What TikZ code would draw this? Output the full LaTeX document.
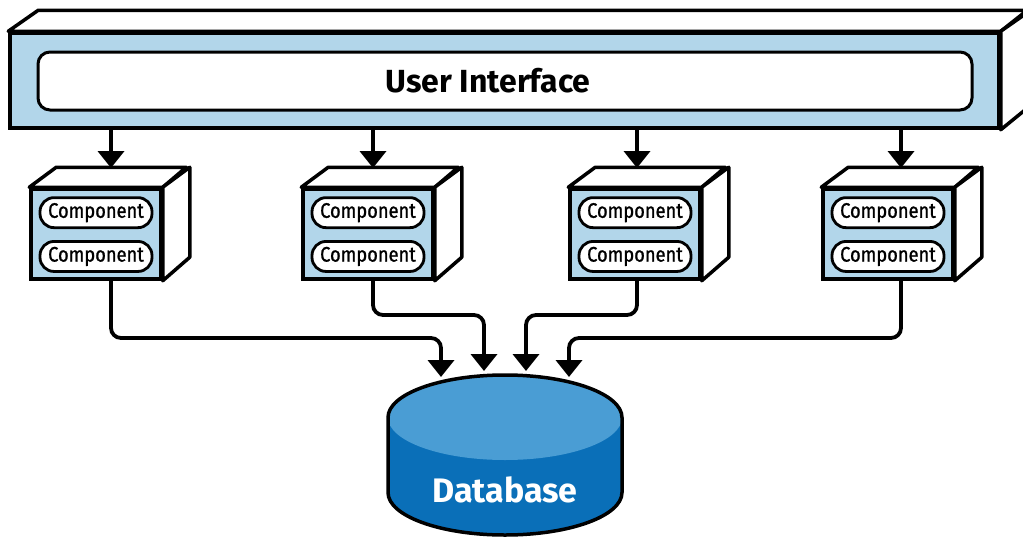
\documentclass[tikz,border=0pt]{standalone}
\usepackage{fontspec}
\newfontfamily\diafont{Fira Sans}
\newfontfamily\diamedium[FakeBold=1.1,FakeStretch=0.87]{Fira Sans}
\usetikzlibrary{arrows.meta,positioning,calc}

\definecolor{paleblue}{HTML}{B2D6EA}
\definecolor{dbtop}{HTML}{4A9DD4}
\definecolor{dbbody}{HTML}{0A6FB8}

\begin{document}
\begin{tikzpicture}[x=1pt,y=-1pt,
            front/.style={draw,line width=3.5pt,fill=paleblue,rectangle,inner sep=0},
            face/.style={draw,line width=3.5pt,fill=white,line join=round},
            layer/.style={front,minimum width=989pt,minimum height=95pt},
            uibox/.style={draw,line width=3pt,fill=white,rounded corners=12pt,minimum width=934pt,minimum height=58pt},
            module/.style={front,minimum width=130pt,minimum height=90pt},
            comp/.style={draw,line width=2.8pt,fill=white,rounded corners=14pt,minimum width=112pt,minimum height=30pt,
              inner sep=0,font=\diamedium\fontsize{21}{21}\selectfont},
            flow/.style={draw,->,line width=3.8pt,rounded corners=10pt,>={Triangle[width=26pt,length=17pt]}}
          ]
          \useasboundingbox (0,0) rectangle (1023,538);
          \clip (0,0) rectangle (1023,538);

          %user interface layer
          \node[layer] (ui) at (504.5,80.5) {};
          \draw[face] (ui.north west) -- ++(30,-21) -- ++(989,0) -- (ui.north east) -- cycle;
          \draw[face] (ui.north east) -- ++(30,-21) -- ++(0,95) -- (ui.south east) -- cycle;
          \node[uibox] (uibar) at (505,81) {};
          \node[font=\diafont\bfseries\fontsize{32}{32}\selectfont] (uilabel) at (488,81) {User Interface};

          %modules
          \node[module] (m1) at (96,234) {};
          \node[module] (m2) at (368,234) {};
          \node[module] (m3) at (635,234) {};
          \node[module] (m4) at (888,234) {};
          \draw[face] (m1.north west) -- ++(27,-20) -- ++(130,0) -- (m1.north east) -- cycle;
          \draw[face] (m1.north east) -- ++(27,-20) -- ++(0,90) -- (m1.south east) -- cycle;
          \draw[face] (m2.north west) -- ++(27,-20) -- ++(130,0) -- (m2.north east) -- cycle;
          \draw[face] (m2.north east) -- ++(27,-20) -- ++(0,90) -- (m2.south east) -- cycle;
          \draw[face] (m3.north west) -- ++(27,-20) -- ++(130,0) -- (m3.north east) -- cycle;
          \draw[face] (m3.north east) -- ++(27,-20) -- ++(0,90) -- (m3.south east) -- cycle;
          \draw[face] (m4.north west) -- ++(27,-20) -- ++(130,0) -- (m4.north east) -- cycle;
          \draw[face] (m4.north east) -- ++(27,-20) -- ++(0,90) -- (m4.south east) -- cycle;

          %components
          \node[comp,below=9pt of m1.north] (m1a) {Component};
          \node[comp,below=11pt of m1a] (m1b) {Component};
          \node[comp,below=9pt of m2.north] (m2a) {Component};
          \node[comp,below=11pt of m2a] (m2b) {Component};
          \node[comp,below=9pt of m3.north] (m3a) {Component};
          \node[comp,below=11pt of m3a] (m3b) {Component};
          \node[comp,below=9pt of m4.north] (m4a) {Component};
          \node[comp,below=11pt of m4a] (m4b) {Component};

          %database
          \fill[dbbody] (388,417.5) -- (388,492.5) arc[start angle=180,end angle=360,x radius=117pt,y radius=42.5pt]
            -- (622,417.5) -- cycle;
          \fill[dbtop] (505,417.5) ellipse[x radius=117pt,y radius=42.5pt];
          \draw[line width=3.5pt] (388,417.5) arc[start angle=180,end angle=0,x radius=117pt,y radius=42.5pt]
            -- (622,492.5) arc[start angle=0,end angle=-180,x radius=117pt,y radius=42.5pt] -- cycle;
          \node[text=white,font=\diafont\bfseries\fontsize{34}{34}\selectfont] (db) at (505,490) {Database};

          %ends of the arrows
          \coordinate (m1top) at (111,168);
          \coordinate (m2top) at (373,168);
          \coordinate (m3top) at (637,168);
          \coordinate (m4top) at (901,168);
          \coordinate (in1) at (441,377);
          \coordinate (in2) at (484,371);
          \coordinate (in3) at (526,371);
          \coordinate (in4) at (569,377);

          \path
          (ui.south -| m1top) edge[flow] (m1top)
          (ui.south -| m2top) edge[flow] (m2top)
          (ui.south -| m3top) edge[flow] (m3top)
          (ui.south -| m4top) edge[flow] (m4top)
          ;
          \draw[flow] (m1.south -| m1top) |- ($(in1)+(0,-39)$) -- (in1);
          \draw[flow] (m2.south -| m2top) |- ($(in2)+(0,-56)$) -- (in2);
          \draw[flow] (m3.south -| m3top) |- ($(in3)+(0,-56)$) -- (in3);
          \draw[flow] (m4.south -| m4top) |- ($(in4)+(0,-39)$) -- (in4);
      \end{tikzpicture}
\end{document}
